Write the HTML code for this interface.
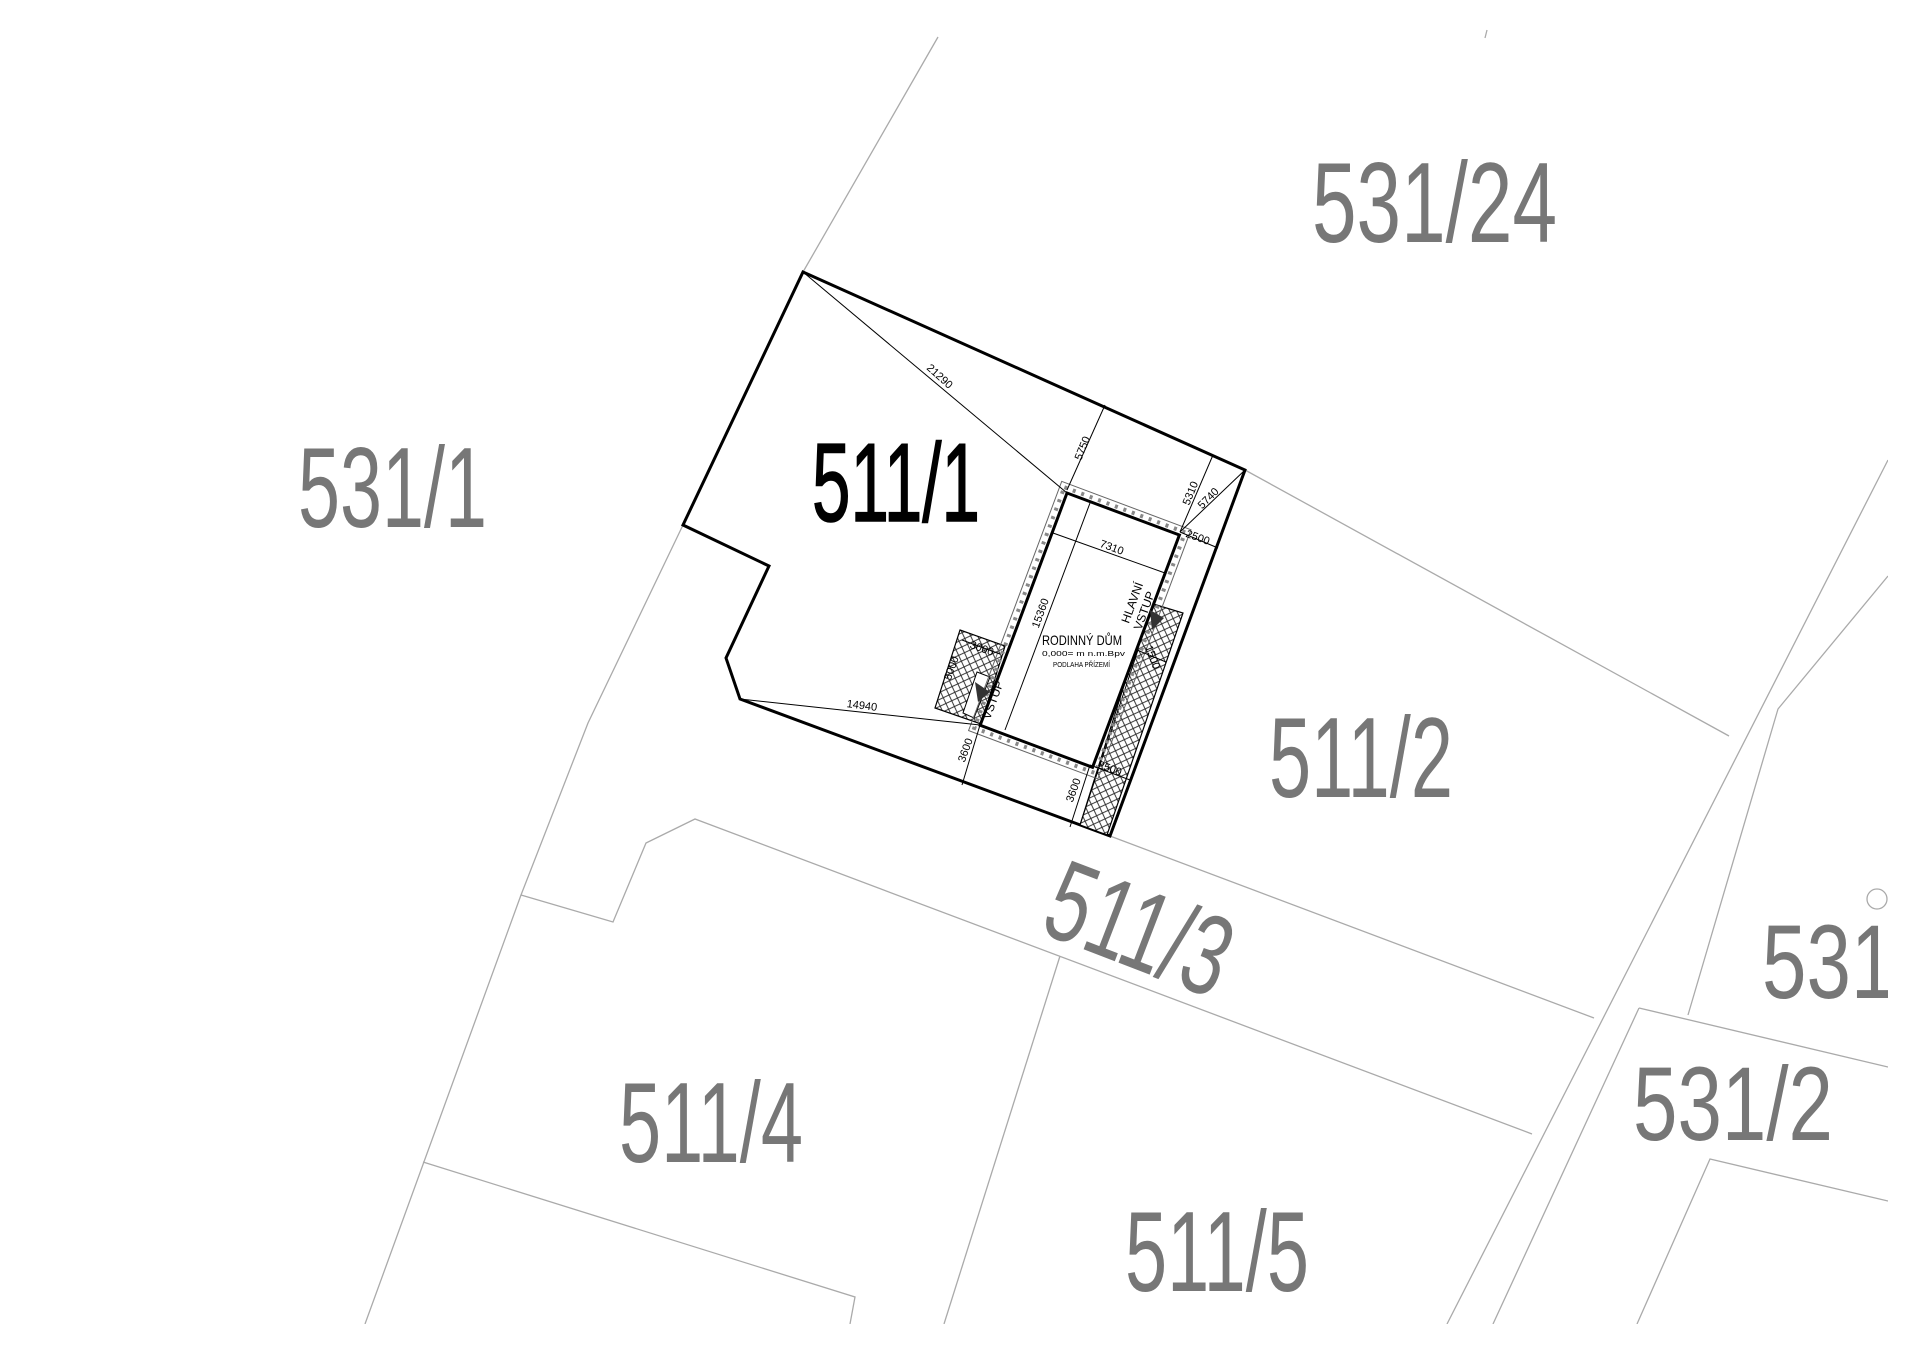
<!DOCTYPE html>
<html><head><meta charset="utf-8"><style>
html,body{margin:0;padding:0;background:#fff}
svg{display:block}
text{font-family:"Liberation Sans","DejaVu Sans",sans-serif}
</style></head><body>
<svg width="1920" height="1357" viewBox="0 0 1920 1357" xmlns="http://www.w3.org/2000/svg">
<defs>
<clipPath id="c"><rect x="0" y="0" width="1888" height="1324"/></clipPath>
<pattern id="h" width="9" height="9" patternUnits="userSpaceOnUse" patternTransform="rotate(20)">
<rect width="9" height="9" fill="#fff"/>
<path d="M0 0L9 9M9 0L0 9" stroke="#222" stroke-width="0.9"/>
</pattern>
</defs>
<g clip-path="url(#c)">
<g fill="none" stroke="#aaa" stroke-width="1.3">
<path d="M938 37L803 272"/>
<path d="M1245 470L1729 736"/>
<path d="M1888 460L1447 1324"/>
<path d="M1888 576L1778 709L1688 1015"/>
<path d="M1639 1008L1888 1067"/>
<path d="M1639 1008L1493 1324"/>
<path d="M1888 1201L1710 1159L1637 1324"/>
<path d="M683 525L588 723L521 895L365 1324"/>
<path d="M521 895L613 922L646 843L695 819L1532 1134"/>
<path d="M1110 836L1594 1018"/>
<path d="M1060 956L944 1324"/>
<path d="M423 1162L855 1297L850 1324"/>
<circle cx="1877" cy="899" r="10"/>
<path d="M1487 30L1485 38"/>
</g>
<g fill="#777" font-size="114">
<text x="1312" y="242" textLength="245" lengthAdjust="spacingAndGlyphs">531/24</text>
<text x="298" y="527" textLength="189" lengthAdjust="spacingAndGlyphs">531/1</text>
<text x="1269" y="797" textLength="184" lengthAdjust="spacingAndGlyphs">511/2</text>
<text x="1140" y="968" text-anchor="middle" textLength="188" lengthAdjust="spacingAndGlyphs" transform="rotate(21 1140 928)">511/3</text>
<text x="619" y="1162" textLength="184" lengthAdjust="spacingAndGlyphs">511/4</text>
<text x="1125" y="1291" textLength="184" lengthAdjust="spacingAndGlyphs">511/5</text>
<text x="1633" y="1140" font-size="105" textLength="200" lengthAdjust="spacingAndGlyphs">531/2</text>
<text x="1762" y="998" font-size="105" textLength="200" lengthAdjust="spacingAndGlyphs">531/2</text>
</g>
</g>
<!-- plot -->
<path d="M803 272L1245 470L1110 836L740 699L726 658L769 566L683 525Z" fill="none" stroke="#000" stroke-width="3"/>
<text x="812" y="521" font-size="111" fill="#000" stroke="#000" stroke-width="1.5" textLength="168" lengthAdjust="spacingAndGlyphs">511/1</text>
<!-- hatches -->
<path d="M1150 603L1183 613L1107 835L1080 825Z" fill="url(#h)" stroke="#000" stroke-width="1.2"/>
<path d="M1138 650L1080 825" stroke="#000" stroke-width="1"/>
<path d="M960 630L1005 646L981 724L935 708Z" fill="url(#h)" stroke="#000" stroke-width="1.2"/>
<path d="M977 672L990 677L974 718L963 713Z" fill="#fff" stroke="#000"/>
<!-- house -->
<g transform="translate(1067 493) rotate(20.5)">
<rect x="-9" y="-9" width="138" height="266" fill="none" stroke="#666" stroke-width="1"/>
<rect x="-4.5" y="-4.5" width="129" height="257" fill="none" stroke="#888" stroke-width="4" stroke-dasharray="3 6"/>
<rect x="0" y="0" width="120" height="248" fill="#fff" stroke="#000" stroke-width="3"/>
</g>
<path d="M975 682L990 692L978 702Z" fill="#333"/>
<path d="M1150 610L1164 618L1152 630Z" fill="#333"/>
<!-- dims -->
<g stroke="#000" stroke-width="1" fill="none">
<path d="M803 272L1067 493"/>
<path d="M740 699L980 725"/>
<path d="M1105 405L1067 490"/>
<path d="M1213 455L1180 532"/>
<path d="M1245 470L1180 532"/>
<path d="M1180 532L1218 548"/>
<path d="M1053 533L1165 573"/>
<path d="M1090 503L1005 730"/>
<path d="M980 725L962 785"/>
<path d="M1090 765L1070 827"/>
<path d="M1090 765L1130 780"/>
<path d="M1137 650L1166 662"/>
<path d="M962 640L1000 654"/>
</g>
<g font-size="11" fill="#000">
<text x="940" y="380" text-anchor="middle" transform="rotate(42 940 376)">21290</text>
<text x="862" y="709" text-anchor="middle" transform="rotate(7 862 705)">14940</text>
<text x="1082" y="452" text-anchor="middle" transform="rotate(-68 1082 448)">5750</text>
<text x="1190" y="497" text-anchor="middle" transform="rotate(-68 1190 493)">5310</text>
<text x="1208" y="502" text-anchor="middle" transform="rotate(-45 1208 498)">5740</text>
<text x="1198" y="541" text-anchor="middle" transform="rotate(20 1198 537)">2500</text>
<text x="1112" y="551" text-anchor="middle" transform="rotate(20 1112 547)">7310</text>
<text x="1040" y="617" text-anchor="middle" transform="rotate(-70 1040 613)">15360</text>
<text x="982" y="652" text-anchor="middle" transform="rotate(20 982 648)">3000</text>
<text x="951" y="672" text-anchor="middle" transform="rotate(-70 951 668)">5000</text>
<text x="1153" y="661" text-anchor="middle" transform="rotate(70 1153 657)">1500</text>
<text x="965" y="754" text-anchor="middle" transform="rotate(-70 965 750)">3600</text>
<text x="1073" y="794" text-anchor="middle" transform="rotate(-70 1073 790)">3600</text>
<text x="1110" y="772" text-anchor="middle" transform="rotate(20 1110 768)">2500</text>
<text x="993" y="704" text-anchor="middle" font-size="12" transform="rotate(-70 993 700)">VSTUP</text>
<text x="1136" y="604" text-anchor="middle" font-size="12" transform="rotate(-70 1136 604)">HLAVNÍ</text>
<text x="1148" y="612" text-anchor="middle" font-size="12" transform="rotate(-70 1148 612)">VSTUP</text>
<text x="1042" y="645" font-size="14" textLength="80" lengthAdjust="spacingAndGlyphs">RODINNÝ DŮM</text>
<text x="1042" y="656" font-size="7" textLength="83" lengthAdjust="spacingAndGlyphs">0,000=         m n.m.Bpv</text>
<text x="1053" y="667" font-size="7" textLength="57" lengthAdjust="spacingAndGlyphs">PODLAHA PŘÍZEMÍ</text>
</g>
</svg>
</body></html>
